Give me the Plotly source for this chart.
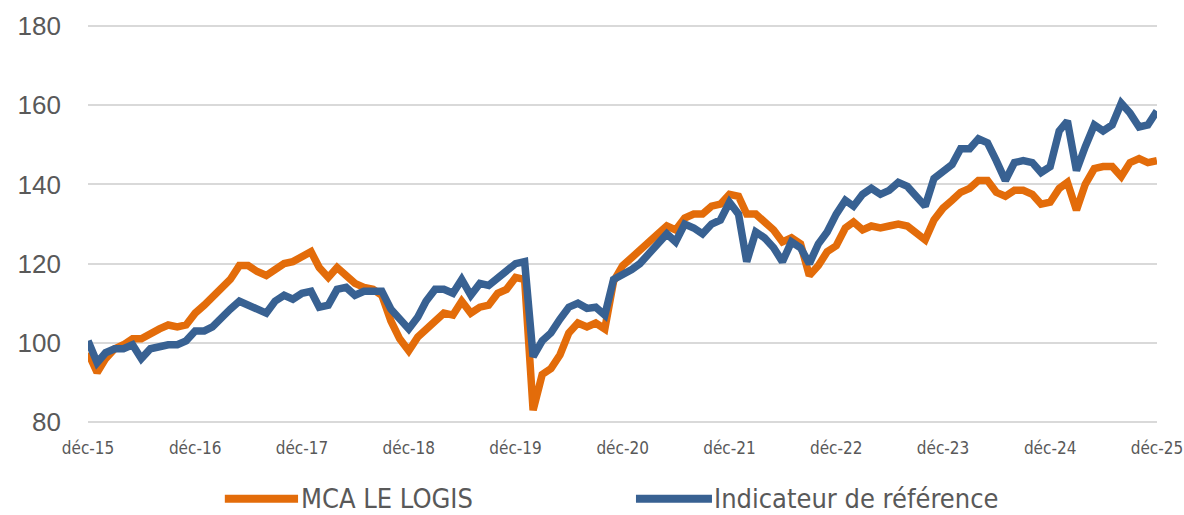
import pandas as pd
import plotly.graph_objects as go

# Month-end dates from déc-15 to déc-25
dates = [pd.Timestamp(2015, 12, 31) + pd.offsets.MonthEnd(i) for i in range(121)]

mca_le_logis = [
    97.5, 92.5, 96, 98.5, 99.5, 101, 101, 102, 103.5, 104.5, 104, 104.5,
    107.5, 109.5, 111.5, 114, 116, 119.5, 119.5, 118, 117, 118.5, 120, 120.5,
    122, 123, 119, 116.5, 119, 117, 115, 114, 113.5, 112, 105.5, 101,
    98, 101.5, 103.5, 105.5, 107.5, 107, 110.5, 107.5, 109, 109.5, 112.5, 113.5,
    116.5, 116, 83, 92, 93.5, 97, 102.5, 105, 104, 105, 103.5, 115.5,
    119.5, 121.5, 123.5, 126, 127.5, 129.5, 128.5, 131.5, 132.5, 132.5, 134.5, 135,
    137.5, 137, 132.5, 132.5, 130.5, 128.5, 125.5, 126.5, 125, 117, 119.5, 123,
    124.5, 129, 130.5, 128.5, 129.5, 129, 129.5, 130, 129.5, 127.5, 126, 131,
    134, 136, 138, 139, 141, 141, 138, 137, 138.5, 138.5, 137.5, 135,
    135.5, 139, 140.5, 133.5, 140, 144, 144.5, 144.5, 142, 145.5, 146.5, 145.5,
    146,
]

indicateur = [
    100.5, 95, 97.5, 98.5, 98.5, 99.5, 96, 98.5, 99, 99.5, 99.5, 100.5,
    103, 103, 104, 106.5, 108.5, 110.5, 109.5, 108.5, 107.5, 110.5, 112, 111,
    112.5, 113, 109, 109.5, 113.5, 114, 112, 113, 113, 113, 108.5, 106,
    103.5, 106.5, 110.5, 113.5, 113.5, 112.5, 116, 112, 115, 114.5, 116.5, 118,
    120, 120.5, 96.5, 100.5, 102.5, 106, 109, 110, 108.7, 109, 107, 116,
    117, 118.5, 120, 122.5, 124.5, 127.5, 125.5, 130, 129, 127.5, 130, 131,
    135.5, 132.5, 120.5, 128, 126.5, 124, 120.5, 125.5, 124, 120, 125, 128,
    132.5, 136, 134.5, 137.5, 139, 137.5, 138.5, 140.5, 139.5, 137, 134.5, 141.5,
    143, 145, 149, 149, 151.5, 150.5, 146, 141, 145.5, 146, 145.5, 143,
    144.5, 153.5, 156, 143.5, 149.5, 155, 153.5, 155, 160.5, 158, 154.5, 155,
    158.5,
]

tick_dates = [pd.Timestamp(y, 12, 31) for y in range(2015, 2026)]
tick_labels = ["déc-15", "déc-16", "déc-17", "déc-18", "déc-19", "déc-20",
               "déc-21", "déc-22", "déc-23", "déc-24", "déc-25"]
y_ticks = [80, 100, 120, 140, 160, 180]

series_names = ["MCA LE LOGIS", "Indicateur de référence"]
ORANGE = "#E36C0A"
BLUE = "#386192"
GREY = "#595959"
NARROW = "Liberation Sans Narrow, Arial Narrow, DejaVu Sans Condensed, sans-serif"

fig = go.Figure()
fig.add_trace(go.Scatter(x=dates, y=mca_le_logis, mode="lines", name=series_names[0],
                         line=dict(color=ORANGE, width=7.5), showlegend=False))
fig.add_trace(go.Scatter(x=dates, y=indicateur, mode="lines", name=series_names[1],
                         line=dict(color=BLUE, width=7.5), showlegend=False))

# Manual legend (long line samples like the original)
leg_y = -0.187
for (x0, x1, tx, name, col) in [(0.128, 0.1965, 0.197, series_names[0], ORANGE),
                                 (0.5126, 0.5837, 0.584, series_names[1], BLUE)]:
    fig.add_shape(type="line", xref="paper", yref="paper", x0=x0, x1=x1, y0=leg_y, y1=leg_y,
                  line=dict(color=col, width=8))
    fig.add_annotation(xref="paper", yref="paper", x=tx, y=leg_y, text=name, showarrow=False,
                       xanchor="left", yanchor="middle",
                       font=dict(family=NARROW, size=27, color=GREY))

fig.update_layout(
    width=1184, height=515,
    margin=dict(l=88, r=27, t=24, b=91, autoexpand=False),
    paper_bgcolor="white", plot_bgcolor="white",
    xaxis=dict(type="date", automargin=False,
               range=[tick_dates[0] - pd.Timedelta(hours=6), tick_dates[-1] + pd.Timedelta(hours=6)],
               tickvals=tick_dates, ticktext=tick_labels,
               showgrid=False, zeroline=False, showline=False, ticks="",
               tickfont=dict(family=NARROW, size=17, color=GREY),
               ticklabelstandoff=12, ticklabeloverflow="allow"),
    yaxis=dict(range=[79.5, 180.5], tickvals=y_ticks, automargin=False,
               showgrid=True, gridcolor="#D9D9D9", gridwidth=2,
               zeroline=False, showline=False, ticks="",
               tickfont=dict(family="Liberation Sans, Arial, sans-serif", size=26, color=GREY),
               ticklabelstandoff=26),
)

fig.write_html("out.html", config={"displayModeBar": False},
               post_script="document.body.style.margin='0';document.body.style.overflow='hidden';")
